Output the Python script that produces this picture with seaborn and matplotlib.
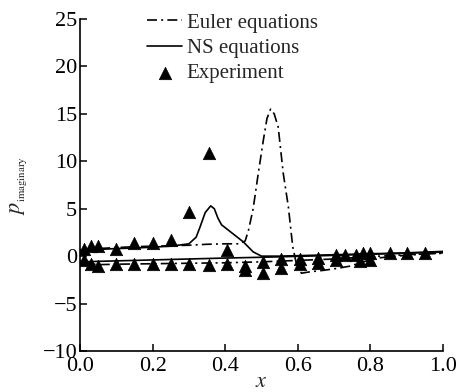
import matplotlib
matplotlib.use("Agg")
import matplotlib.pyplot as plt
import seaborn as sns
import pandas as pd

# ---- data ----
euler_up_x = [0.0, 0.05, 0.10, 0.15, 0.20, 0.25, 0.30, 0.35, 0.40, 0.44, 0.455, 0.464, 0.477, 0.491,
              0.505, 0.515, 0.525, 0.535, 0.546, 0.56, 0.574, 0.586, 0.596, 0.61, 0.634, 0.67,
              0.707, 0.744, 0.78, 0.82, 0.87, 0.92, 0.96, 1.0]
euler_up_y = [0.6, 0.8, 0.9, 1.0, 1.05, 1.1, 1.15, 1.25, 1.3, 1.3, 1.6, 2.7, 5.0, 8.7,
              12.2, 14.5, 15.5, 15.0, 13.6, 8.7, 5.2, 1.0, -0.8, -1.8, -1.65, -1.5,
              -1.3, -1.05, -0.6, -0.2, 0.0, 0.15, 0.25, 0.35]

euler_lo_x = [0.0, 0.02, 0.05, 0.1, 0.2, 0.3, 0.4, 0.5, 0.6, 0.7, 0.8, 0.9, 1.0]
euler_lo_y = [-0.5, -0.8, -0.9, -0.85, -0.8, -0.75, -0.7, -0.6, -0.45, -0.3, -0.05, 0.15, 0.3]

ns_up_x = [0.0, 0.05, 0.10, 0.15, 0.20, 0.25, 0.30, 0.32, 0.33, 0.345, 0.36, 0.37, 0.38, 0.39,
           0.40, 0.42, 0.45, 0.477, 0.50, 0.55, 0.60, 0.70, 0.80, 0.90, 1.0]
ns_up_y = [0.6, 0.7, 0.8, 0.85, 0.95, 1.05, 1.3, 2.0, 3.0, 4.6, 5.3, 5.0, 4.0, 3.3,
           3.0, 2.4, 1.5, 0.45, 0.0, 0.0, 0.05, 0.15, 0.25, 0.35, 0.5]

ns_lo_x = [0.0, 0.1, 0.2, 0.3, 0.4, 0.5, 0.6, 0.7, 0.8, 0.9, 1.0]
ns_lo_y = [-0.6, -0.5, -0.4, -0.3, -0.2, -0.12, -0.02, 0.08, 0.2, 0.3, 0.45]

exp_x = [0.01, 0.03, 0.05, 0.10, 0.15, 0.20, 0.25, 0.30, 0.355, 0.405, 0.455, 0.505,
         0.555, 0.605, 0.655, 0.705, 0.73, 0.76, 0.78, 0.80, 0.855, 0.90, 0.95,
         0.01, 0.03, 0.05, 0.10, 0.15, 0.20, 0.25, 0.30, 0.355, 0.405, 0.455, 0.505,
         0.555, 0.605, 0.655, 0.705, 0.77, 0.80]
exp_y = [0.75, 1.1, 1.1, 0.8, 1.35, 1.35, 1.7, 4.7, 10.9, 0.65, -1.0, -0.6,
         -0.3, -0.25, -0.2, 0.1, 0.1, 0.15, 0.3, 0.3, 0.3, 0.3, 0.3,
         -0.4, -0.85, -1.0, -0.8, -0.8, -0.8, -0.85, -0.85, -0.9, -0.8, -1.5, -1.8,
         -1.2, -0.8, -0.75, -0.45, -0.55, -0.4]

x_ticks = [0.0, 0.2, 0.4, 0.6, 0.8, 1.0]
y_ticks = [-10, -5, 0, 5, 10, 15, 20, 25]

sns.set_style("ticks")
plt.rcParams["font.family"] = ["Liberation Serif", "DejaVu Serif"]
plt.rcParams["mathtext.fontset"] = "stix"
plt.rcParams["axes.unicode_minus"] = True

fig = plt.figure(figsize=(4.74, 3.92), dpi=100)
ax = fig.add_axes([80 / 474, 1 - 351 / 392, (443 - 80) / 474, (351 - 19) / 392])

dd = (0, (6, 2.5, 1.2, 2.5))
lw = 1.2
sns.lineplot(x=euler_up_x, y=euler_up_y, ax=ax, sort=False, estimator=None,
             color="black", linewidth=lw, linestyle=dd, label="Euler equations")
sns.lineplot(x=euler_lo_x, y=euler_lo_y, ax=ax, sort=False, estimator=None,
             color="black", linewidth=lw, linestyle=dd)
sns.lineplot(x=ns_up_x, y=ns_up_y, ax=ax, sort=False, estimator=None,
             color="black", linewidth=lw, label="NS equations")
sns.lineplot(x=ns_lo_x, y=ns_lo_y, ax=ax, sort=False, estimator=None,
             color="black", linewidth=lw)
sns.scatterplot(x=exp_x, y=exp_y, ax=ax, marker="^", s=80, color="black",
                edgecolor="black", linewidth=0.5, label="Experiment", zorder=5)

ax.set_xlim(0, 1.0)
ax.set_ylim(-10, 25)
ax.set_xticks(x_ticks)
ax.set_xticklabels([f"{v:.1f}" for v in x_ticks])
ax.set_yticks(y_ticks)
ax.set_yticklabels([str(v).replace("-", "\u2212") for v in y_ticks])
sns.despine(ax=ax)
for s in ["left", "bottom"]:
    ax.spines[s].set_linewidth(1.2)
    ax.spines[s].set_color("black")
ax.tick_params(direction="in", length=5, width=1.1, labelsize=16, colors="black", pad=2)
ax.tick_params(axis="x", pad=4)

ax.set_xlabel("$x$", fontsize=16, labelpad=-2)
ax.set_ylabel(r"$p_{_{\mathrm{imaginary}}}$", fontsize=16, labelpad=10)

leg = ax.legend(loc="upper left", bbox_to_anchor=(147 / 474, 1 - 13 / 392),
                bbox_transform=fig.transFigure, frameon=False, fontsize=15,
                handlelength=1.7, handletextpad=0.2, labelspacing=0.28,
                borderpad=0, borderaxespad=0)

fig.savefig("out.png", dpi=100)
